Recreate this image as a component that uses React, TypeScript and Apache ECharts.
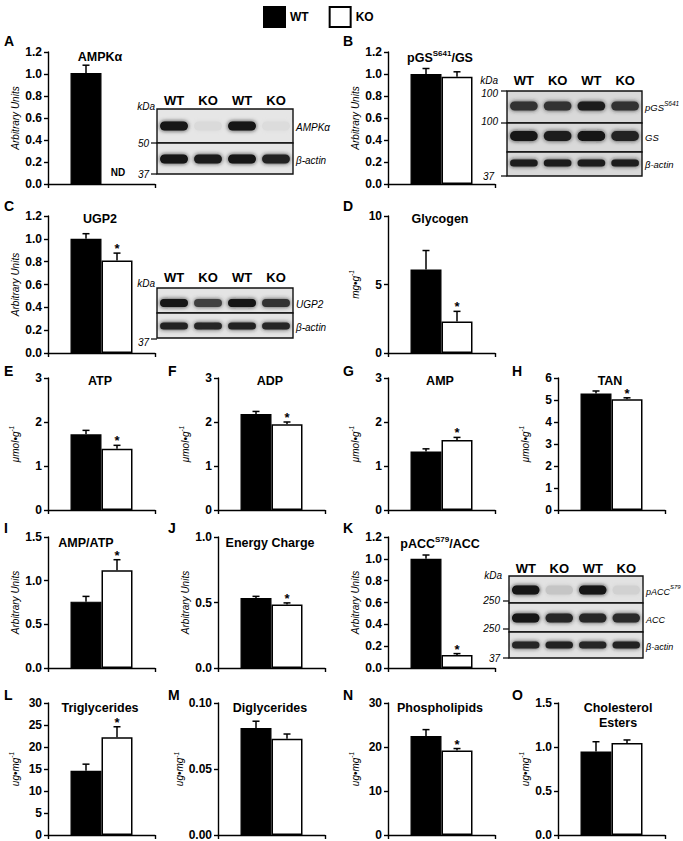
import React, { useEffect, useRef } from 'react';
import * as echarts from 'echarts';

// ---------------- data ----------------
const seriesNames = ['WT', 'KO'];
const panelIds = ['A', 'B', 'C', 'D', 'E', 'F', 'G', 'H', 'I', 'J', 'K', 'L', 'M', 'N', 'O'];
const panelTitles = ['AMPKα', 'pGS^S641^/GS', 'UGP2', 'Glycogen', 'ATP', 'ADP', 'AMP', 'TAN', 'AMP/ATP', 'Energy Charge', 'pACC^S79^/ACC', 'Triglycerides', 'Diglycerides', 'Phospholipids', 'Cholesterol\nEsters'];
const yAxisNames = ['Arbitrary Units', 'Arbitrary Units', 'Arbitrary Units', 'mg•g^-1^', 'μmol•g^-1^', 'μmol•g^-1^', 'μmol•g^-1^', 'μmol•g^-1^', 'Arbitrary Units', 'Arbitrary Units', 'Arbitrary Units', 'ug•mg^-1^', 'ug•mg^-1^', 'ug•mg^-1^', 'ug•mg^-1^'];
const yMaxima = [1.2, 1.2, 1.2, 10, 3, 3, 3, 6, 1.5, 1.0, 1.2, 30, 0.1, 30, 1.5];
const yIntervals = [0.2, 0.2, 0.2, 5, 1, 1, 1, 1, 0.5, 0.5, 0.2, 5, 0.05, 10, 0.5];
const yDecimals = [1, 1, 1, 0, 0, 0, 0, 0, 1, 1, 1, 0, 2, 0, 1];
const wtValues = [1.01, 1.0, 1.0, 6.1, 1.72, 2.18, 1.33, 5.3, 0.76, 0.535, 1.0, 14.6, 0.081, 22.5, 0.95];
const wtErrors = [0.07, 0.05, 0.045, 1.38, 0.09, 0.06, 0.06, 0.11, 0.06, 0.012, 0.035, 1.5, 0.0052, 1.45, 0.11];
const koValues: (number | null)[] = [null, 0.975, 0.81, 2.3, 1.39, 1.95, 1.59, 5.03, 1.12, 0.485, 0.12, 22.2, 0.073, 19.2, 1.045];
const koErrors = [0, 0.045, 0.065, 0.74, 0.08, 0.05, 0.06, 0.07, 0.12, 0.012, 0.012, 2.4, 0.0035, 0.45, 0.035];
const koSignificant = [false, false, true, true, true, true, true, true, true, true, true, true, false, true, false];

// western blot lanes and relative band intensities
const blotLanes = ['WT', 'KO', 'WT', 'KO'];
const bandsA_AMPK = [1, 0.04, 1, 0.03];
const bandsA_actin = [1, 0.95, 1, 0.92];
const bandsB_pGS = [0.85, 0.85, 0.95, 0.85];
const bandsB_GS = [0.98, 0.95, 1, 0.92];
const bandsB_actin = [0.95, 0.95, 0.95, 0.95];
const bandsC_UGP2 = [1, 0.78, 1, 0.85];
const bandsC_actin = [0.92, 0.9, 0.92, 0.9];
const bandsK_pACC = [1, 0.14, 1, 0.08];
const bandsK_ACC = [1, 0.9, 0.9, 0.88];
const bandsK_actin = [0.9, 0.92, 0.9, 0.92];

// ---------------- layout / styles ----------------
const FONT = '"Liberation Sans", Arial, Helvetica, sans-serif';
const AXIS_W = 107;
const BAR_W = 31;
const colX = [48, 218, 388, 558];
const letterX = [4, 168, 343, 512];
// [col, top, bottom, letterY, titleY]
const panelLayout = [
  [0, 52, 184, 41, 57], [2, 52, 184, 41, 57],
  [0, 216, 353, 206, 219], [2, 216, 353, 206, 219],
  [0, 378, 510, 371, 381], [1, 378, 510, 371, 381], [2, 378, 510, 371, 381], [3, 378, 510, 371, 381],
  [0, 537, 668, 528, 543], [1, 537, 668, 528, 543], [2, 537, 668, 528, 543],
  [0, 703, 836, 695, 708], [1, 703, 836, 695, 708], [2, 703, 836, 695, 708], [3, 703, 836, 695, 708],
];

function toRich(s: string) {
  const parts = s.split('^');
  return parts.map((p, k) => (p === '' ? '' : `{${k % 2 === 0 ? 't' : 's'}|${p}}`)).join('');
}

type Blot = {
  x: number; w: number; laneY: number; rowsY: number[]; bandY: number[]; bandH: number[];
  data: number[][]; labels: string[]; bg: string; labelSize: number;
  markers: [string, number, number, number | null][];
};

const blots: Blot[] = [
  {
    x: 157, w: 136, laneY: 100, rowsY: [109, 143, 174], bandY: [126, 159], bandH: [9, 9],
    data: [bandsA_AMPK, bandsA_actin], labels: ['AMPKα', 'β-actin'], bg: '#e6e6e6', labelSize: 10,
    markers: [['kDa', 155, 106, null], ['50', 149, 143, 143], ['37', 149, 174, 174]],
  },
  {
    x: 507, w: 135, laneY: 80, rowsY: [91, 123, 152, 176], bandY: [106, 136, 163], bandH: [9, 10, 7],
    data: [bandsB_pGS, bandsB_GS, bandsB_actin], labels: ['pGS^S641^', 'GS', 'β-actin'], bg: '#d9d9d9', labelSize: 9.5,
    markers: [['kDa', 498, 80, null], ['100', 498, 93, 91], ['100', 498, 121, 123], ['37', 494, 176, 176]],
  },
  {
    x: 157, w: 136, laneY: 277, rowsY: [288, 313, 338], bandY: [303, 326], bandH: [8, 7],
    data: [bandsC_UGP2, bandsC_actin], labels: ['UGP2', 'β-actin'], bg: '#e4e4e4', labelSize: 10,
    markers: [['kDa', 155, 283, null], ['37', 149, 342, 339]],
  },
  {
    x: 509, w: 134, laneY: 568, rowsY: [576, 603, 632, 658], bandY: [590, 618, 645], bandH: [9, 9, 7],
    data: [bandsK_pACC, bandsK_ACC, bandsK_actin], labels: ['pACC^S79^', 'ACC', 'β-actin'], bg: '#e2e2e2', labelSize: 9,
    markers: [['kDa', 502, 575, null], ['250', 500, 600, 601], ['250', 500, 628, 629], ['37', 500, 658, 658]],
  },
];

function blotGraphics(b: Blot) {
  const els: any[] = [];
  const laneW = b.w / blotLanes.length;
  blotLanes.forEach((lane, j) => {
    els.push({
      type: 'text', x: b.x + laneW * (j + 0.5), y: b.laneY,
      style: { text: lane, font: `bold 13px ${FONT}`, fill: '#000', align: 'center', verticalAlign: 'middle' },
    });
  });
  b.labels.forEach((lab, r) => {
    const y0 = b.rowsY[r];
    const y1 = b.rowsY[r + 1];
    els.push({
      type: 'rect', z: 10, shape: { x: b.x, y: y0, width: b.w, height: y1 - y0 },
      style: { fill: b.bg, stroke: '#111', lineWidth: 1.4 },
    });
    b.data[r].forEach((v, j) => {
      const g = Math.round(226 - v * 208);
      const h = b.bandH[r];
      els.push({
        type: 'rect', z: 11,
        shape: { x: b.x + laneW * j + laneW * 0.09, y: b.bandY[r] - h / 2, width: laneW * 0.82, height: h, r: h / 2 },
        style: { fill: `rgb(${g},${g},${g})`, shadowBlur: 4, shadowColor: `rgba(${g},${g},${g},0.9)` },
      });
    });
    els.push({
      type: 'text', x: b.x + b.w + 3, y: b.bandY[r],
      style: {
        text: toRich(lab), fill: '#000', align: 'left', verticalAlign: 'middle',
        rich: {
          t: { fontFamily: FONT, fontSize: b.labelSize, fontStyle: 'italic', lineHeight: 13, verticalAlign: 'bottom' },
          s: { fontFamily: FONT, fontSize: b.labelSize - 3, fontStyle: 'italic', lineHeight: 8, verticalAlign: 'top' },
        },
      },
    });
  });
  b.markers.forEach(([t, rx, y, tickY]) => {
    els.push({
      type: 'text', x: rx, y,
      style: { text: t, font: `italic 10px ${FONT}`, fill: '#000', align: 'right', verticalAlign: 'middle' },
    });
    if (tickY !== null) {
      els.push({
        type: 'line', shape: { x1: b.x - 6, y1: tickY, x2: b.x, y2: tickY },
        style: { stroke: '#000', lineWidth: 1.2 },
      });
    }
  });
  return els;
}

function buildOption() {
  const grid: any[] = [];
  const xAxis: any[] = [];
  const yAxis: any[] = [];
  const series: any[] = [];
  const graphic: any[] = [];

  panelIds.forEach((id, i) => {
    const [col, top, bottom, letterY, titleY] = panelLayout[i];
    const left = colX[col];
    grid.push({ left, top, width: AXIS_W, height: bottom - top, containLabel: false });
    xAxis.push({
      type: 'category', gridIndex: i, data: [id],
      axisLine: { show: true, lineStyle: { color: '#000', width: 1.4 } },
      axisTick: { show: true, length: 4, lineStyle: { color: '#000', width: 1.4 } },
      axisLabel: { show: false },
    });
    const dec = yDecimals[i];
    yAxis.push({
      type: 'value', gridIndex: i, min: 0, max: yMaxima[i], interval: yIntervals[i],
      axisLine: { show: true, lineStyle: { color: '#000', width: 1.4 } },
      axisTick: { show: true, length: 4, lineStyle: { color: '#000', width: 1.4 } },
      splitLine: { show: false },
      axisLabel: {
        color: '#000', fontFamily: FONT, fontWeight: 'bold', fontSize: 12, margin: 6,
        formatter: (v: number) => v.toFixed(dec),
      },
      name: toRich(yAxisNames[i]), nameLocation: 'middle', nameGap: 28,
      nameTextStyle: {
        color: '#000',
        rich: {
          t: { fontFamily: FONT, fontSize: 10, fontStyle: 'italic', color: '#000', lineHeight: 12, verticalAlign: 'bottom' },
          s: { fontFamily: FONT, fontSize: 6.5, fontStyle: 'italic', color: '#000', lineHeight: 7, verticalAlign: 'top' },
        },
      },
    });
    series.push({
      type: 'bar', name: seriesNames[0], xAxisIndex: i, yAxisIndex: i, barWidth: BAR_W, barGap: '0%',
      data: [wtValues[i]], itemStyle: { color: '#000', borderColor: '#000', borderWidth: 1.2 }, silent: true,
    });
    series.push({
      type: 'bar', name: seriesNames[1], xAxisIndex: i, yAxisIndex: i, barWidth: BAR_W, barGap: '0%',
      data: [koValues[i] === null ? '-' : koValues[i]],
      itemStyle: { color: '#fff', borderColor: '#000', borderWidth: 1.5 }, silent: true,
    });
    series.push({
      type: 'custom', xAxisIndex: i, yAxisIndex: i, silent: true, z: 5,
      data: [[0, wtValues[i]], [0, koValues[i] === null ? 0 : koValues[i]]],
      renderItem: (params: any, api: any) => {
        const k = params.dataIndex;
        const val = k === 0 ? wtValues[i] : koValues[i];
        const err = k === 0 ? wtErrors[i] : koErrors[i];
        const base = api.coord([0, 0]);
        const cx = base[0] + (k === 0 ? -BAR_W / 2 : BAR_W / 2);
        if (val === null) {
          return {
            type: 'text', x: cx + 1, y: base[1] - 12,
            style: { text: 'ND', font: `bold 10px ${FONT}`, fill: '#000', align: 'center', verticalAlign: 'middle' },
          };
        }
        const p0 = api.coord([0, val]);
        const p1 = api.coord([0, val + err]);
        const ls = { stroke: '#000', lineWidth: 1.5 };
        const children: any[] = [
          { type: 'line', shape: { x1: cx, y1: p0[1], x2: cx, y2: p1[1] }, style: ls },
          { type: 'line', shape: { x1: cx - 3.5, y1: p1[1], x2: cx + 3.5, y2: p1[1] }, style: ls },
        ];
        if (k === 1 && koSignificant[i]) {
          children.push({
            type: 'text', x: cx, y: p1[1] + 2,
            style: { text: '*', font: `bold 13px ${FONT}`, fill: '#000', align: 'center', verticalAlign: 'bottom' },
          });
        }
        return { type: 'group', children };
      },
    });

    // panel letter
    graphic.push({
      type: 'text', x: letterX[col], y: letterY,
      style: { text: id, font: `bold 14px ${FONT}`, fill: '#000', align: 'left', verticalAlign: 'middle' },
    });
    // panel title
    const title = panelTitles[i];
    const tx = left + (id === 'I' ? 38 : 52);
    if (title.includes('^')) {
      graphic.push({
        type: 'text', x: tx, y: titleY,
        style: {
          text: toRich(title), fill: '#000', align: 'center', verticalAlign: 'middle',
          rich: {
            t: { fontFamily: FONT, fontSize: 12.5, fontWeight: 'bold', lineHeight: 15, verticalAlign: 'bottom' },
            s: { fontFamily: FONT, fontSize: 8, fontWeight: 'bold', lineHeight: 9, verticalAlign: 'top' },
          },
        },
      });
    } else {
      graphic.push({
        type: 'text', x: tx + (id === 'O' ? 8 : 0), y: title.includes('\n') ? titleY + 7 : titleY,
        style: {
          text: title, font: `bold 12.5px ${FONT}`, fill: '#000', align: 'center', verticalAlign: 'middle', lineHeight: 15,
        },
      });
    }
  });

  blots.forEach((b) => graphic.push(...blotGraphics(b)));

  return {
    animation: false,
    backgroundColor: '#fff',
    textStyle: { fontFamily: FONT },
    legend: {
      data: seriesNames, left: 258, top: 1, itemWidth: 21, itemHeight: 20, itemGap: 20, icon: 'rect',
      selectedMode: false,
      textStyle: { fontFamily: FONT, fontWeight: 'bold', fontSize: 12, color: '#000' },
    },
    grid, xAxis, yAxis, series, graphic,
  };
}

export default function App() {
  const ref = useRef<HTMLDivElement>(null);
  useEffect(() => {
    if (!ref.current) return;
    const chart = echarts.init(ref.current, null, { renderer: 'svg' });
    chart.setOption(buildOption() as any);
    return () => chart.dispose();
  }, []);
  return (
    <div
      ref={ref}
      style={{ position: 'absolute', left: 0, top: 0, width: 683, height: 841, background: '#fff' }}
    />
  );
}
